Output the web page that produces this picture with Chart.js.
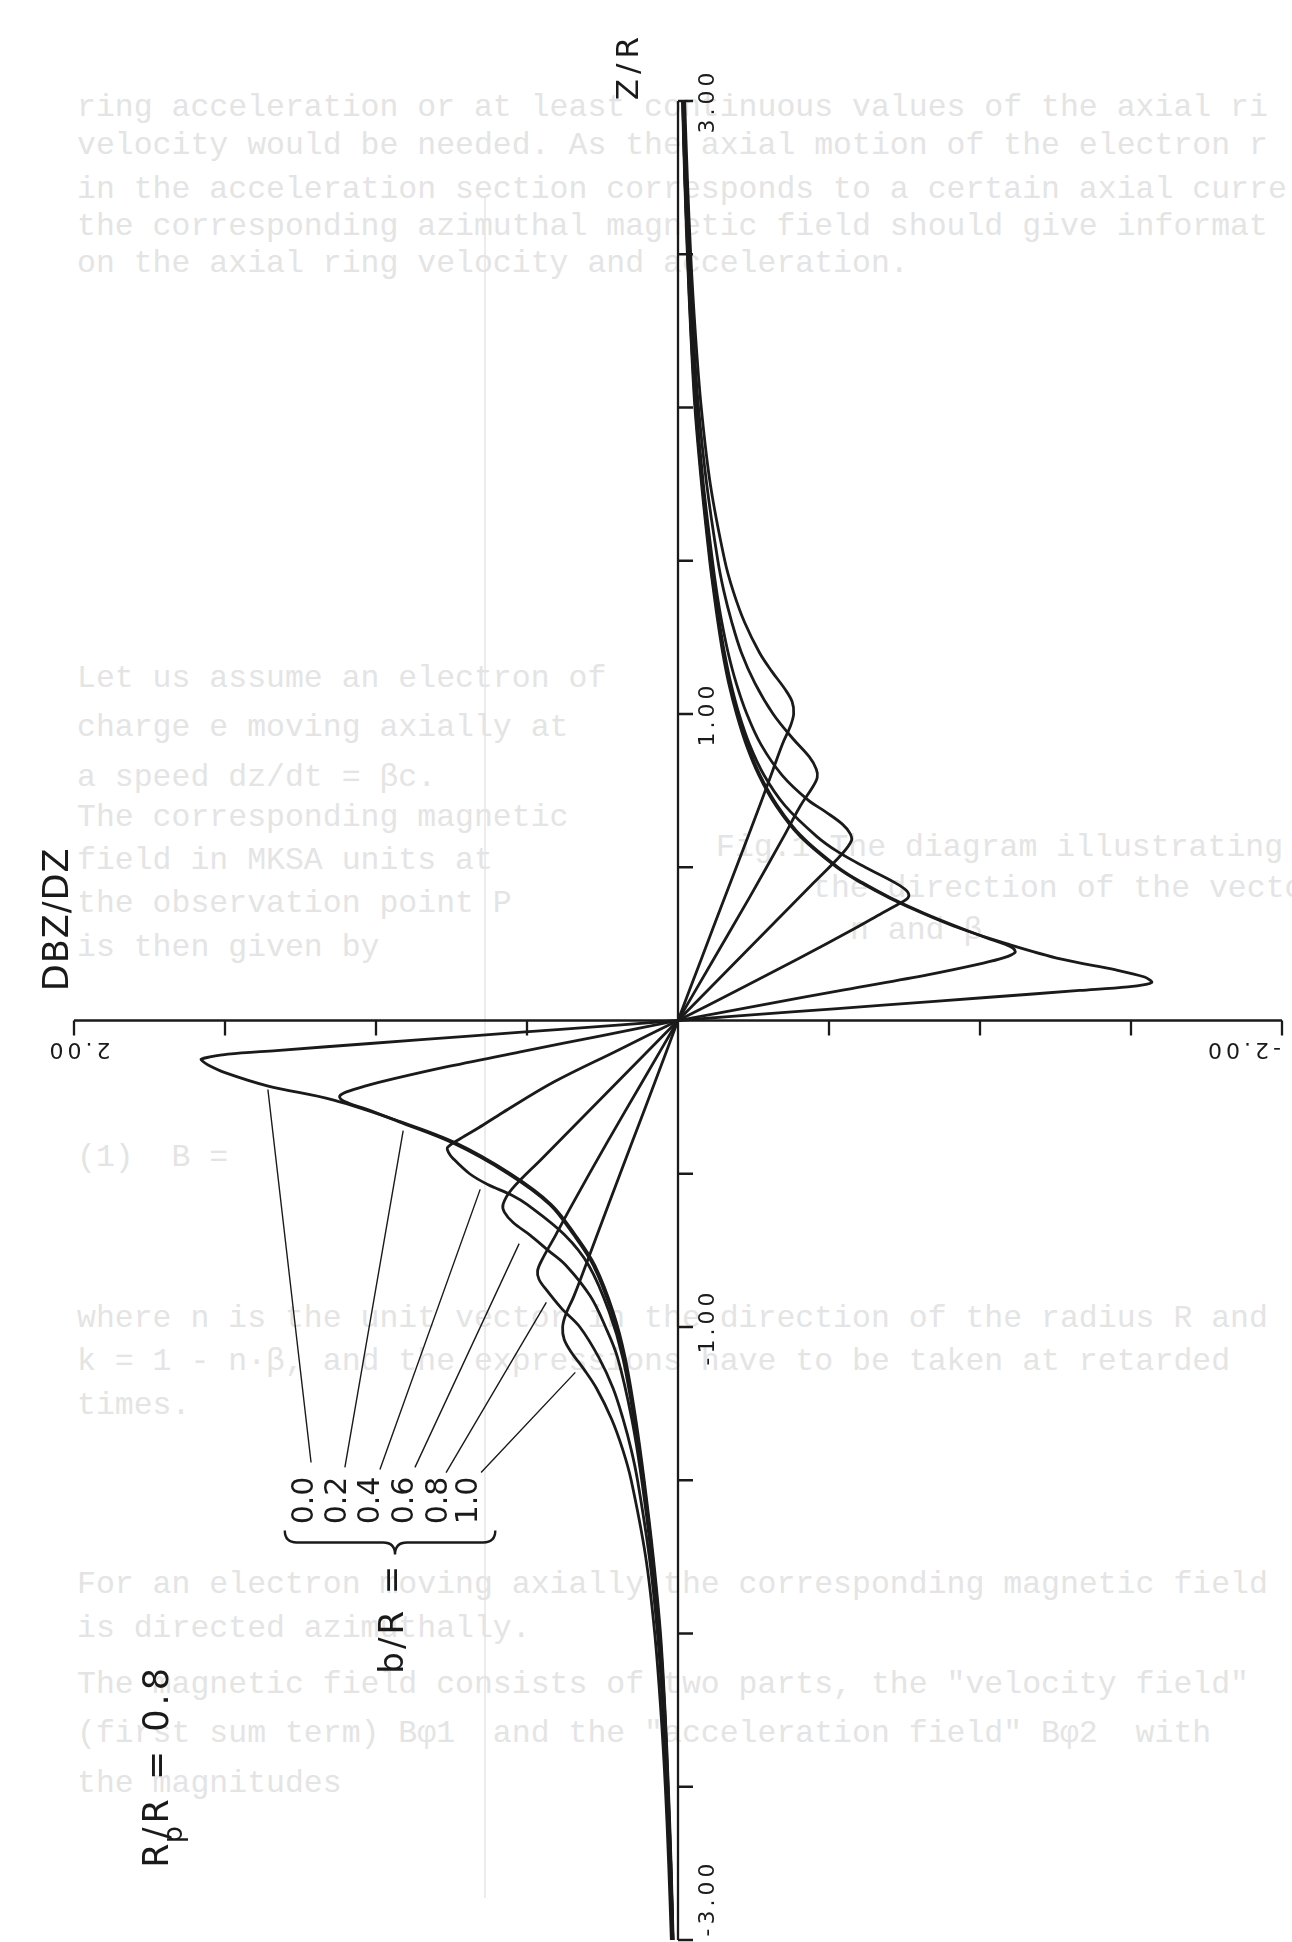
<!DOCTYPE html>
<html>
<head>
<meta charset="utf-8">
<script src="https://cdn.jsdelivr.net/npm/chart.js@4.4.1/dist/chart.umd.min.js"></script>
<style>
  html, body { margin: 0; padding: 0; background: #ffffff; }
  #wrap { position: relative; width: 1292px; height: 1942px; overflow: hidden; }
  #page { position: absolute; left: 0; top: 0; width: 1292px; height: 1942px; overflow: hidden;
          font-family: "Liberation Mono", "DejaVu Sans Mono", monospace; font-size: 31.5px;
          color: #e4e4e4; white-space: pre; }
  #page div { position: absolute; line-height: 1; }
  #page .rule { background: #ececec; width: 2px; }
  canvas { position: absolute; left: 0; top: 0; }
</style>
</head>
<body>
<div id="wrap">
  <!-- typewritten text of the facing page, showing faintly through the sheet -->
  <div id="page">
    <div class="rule" style="left:484px;top:198px;height:1700px"></div>
    <div style="left:77px;top:92px">ring acceleration or at least continuous values of the axial ri</div>
    <div style="left:77px;top:130px">velocity would be needed. As the axial motion of the electron r</div>
    <div style="left:77px;top:174px">in the acceleration section corresponds to a certain axial curre</div>
    <div style="left:77px;top:211px">the corresponding azimuthal magnetic field should give informat</div>
    <div style="left:77px;top:248px">on the axial ring velocity and acceleration.</div>
    <div style="left:77px;top:663px">Let us assume an electron of</div>
    <div style="left:77px;top:712px">charge e moving axially at</div>
    <div style="left:77px;top:762px">a speed dz/dt = βc.</div>
    <div style="left:77px;top:802px">The corresponding magnetic</div>
    <div style="left:77px;top:845px">field in MKSA units at</div>
    <div style="left:77px;top:888px">the observation point P</div>
    <div style="left:77px;top:932px">is then given by</div>
    <div style="left:716px;top:832px">Fig.1 The diagram illustrating</div>
    <div style="left:812px;top:873px">the direction of the vectors</div>
    <div style="left:850px;top:915px">n and β</div>
    <div style="left:77px;top:1142px">(1)  B =</div>
    <div style="left:77px;top:1303px">where n is the unit vector in the direction of the radius R and</div>
    <div style="left:77px;top:1346px">k = 1 - n·β, and the expressions have to be taken at retarded</div>
    <div style="left:77px;top:1390px">times.</div>
    <div style="left:77px;top:1569px">For an electron moving axially the corresponding magnetic field</div>
    <div style="left:77px;top:1613px">is directed azimuthally.</div>
    <div style="left:77px;top:1669px">The magnetic field consists of two parts, the "velocity field"</div>
    <div style="left:77px;top:1718px">(first sum term) Bφ1  and the "acceleration field" Bφ2  with</div>
    <div style="left:77px;top:1768px">the magnitudes</div>
  </div>
  <canvas id="c" width="1292" height="1942"></canvas>
</div>
<script>
// ---- axial field gradient DBZ/DZ against Z/R, Rp/R = 0.8, one curve per b/R ----
const bLabels = ['0.0', '0.2', '0.4', '0.6', '0.8', '1.0'];

const zB00 = [-3, -2.75, -2.5, -2.25, -2, -1.75, -1.5, -1.3, -1.1, -0.95, -0.8, -0.7, -0.6, -0.5, -0.4, -0.33, -0.26, -0.213, -0.17, -0.145, -0.132, -0.126, -0.119, -0.11, -0.098, -0.075, -0.05, -0.028, 0,
              0.028, 0.05, 0.075, 0.098, 0.11, 0.118, 0.124, 0.13, 0.142, 0.165, 0.2, 0.25, 0.3, 0.35, 0.4, 0.45, 0.5, 0.6, 0.7, 0.8, 0.9, 1.0, 1.1, 1.2, 1.3, 1.4, 1.5, 1.75, 2, 2.25, 2.5, 2.75, 3];
const dB00 = [0.016, 0.023, 0.032, 0.043, 0.058, 0.082, 0.112, 0.14, 0.175, 0.215, 0.275, 0.34, 0.42, 0.555, 0.735, 0.92, 1.14, 1.36, 1.5, 1.556, 1.575, 1.579, 1.55, 1.49, 1.33, 1.02, 0.68, 0.377, 0,
              -0.377, -0.68, -1.02, -1.33, -1.49, -1.55, -1.569, -1.565, -1.545, -1.45, -1.27, -1.09, -0.935, -0.81, -0.70, -0.605, -0.525, -0.405, -0.325, -0.268, -0.226, -0.194, -0.168, -0.148, -0.132, -0.118, -0.105, -0.078, -0.056, -0.042, -0.031, -0.022, -0.015];

const zB02 = [-3, -2.75, -2.5, -2.25, -2, -1.75, -1.5, -1.3, -1.1, -0.95, -0.8, -0.7, -0.6, -0.5, -0.4, -0.33, -0.29, -0.27, -0.258, -0.246, -0.232, -0.215, -0.19, -0.15, -0.1, -0.05, 0,
              0.05, 0.1, 0.15, 0.185, 0.205, 0.222, 0.235, 0.25, 0.27, 0.3, 0.35, 0.4, 0.45, 0.5, 0.6, 0.7, 0.8, 0.9, 1.0, 1.1, 1.2, 1.3, 1.4, 1.5, 1.75, 2, 2.25, 2.5, 2.75, 3];
const dB02 = [0.017, 0.024, 0.033, 0.044, 0.06, 0.084, 0.114, 0.143, 0.178, 0.22, 0.28, 0.345, 0.425, 0.562, 0.745, 0.925, 1.03, 1.09, 1.115, 1.12, 1.095, 1.04, 0.94, 0.76, 0.51, 0.255, 0,
              -0.275, -0.55, -0.83, -1.0, -1.08, -1.116, -1.11, -1.08, -1.02, -0.94, -0.815, -0.705, -0.61, -0.53, -0.41, -0.33, -0.272, -0.23, -0.197, -0.171, -0.151, -0.135, -0.12, -0.107, -0.08, -0.058, -0.043, -0.032, -0.023, -0.016];

const zB04 = [-3, -2.75, -2.5, -2.25, -2, -1.75, -1.5, -1.3, -1.1, -0.95, -0.8, -0.7, -0.6, -0.57, -0.535, -0.5, -0.45, -0.43, -0.414, -0.385, -0.35, -0.3, -0.2, -0.1, 0,
              0.1, 0.2, 0.3, 0.35, 0.38, 0.401, 0.42, 0.44, 0.47, 0.5, 0.55, 0.6, 0.7, 0.8, 0.9, 1.0, 1.1, 1.2, 1.3, 1.4, 1.5, 1.75, 2, 2.25, 2.5, 2.75, 3];
const dB04 = [0.017, 0.024, 0.034, 0.045, 0.061, 0.086, 0.116, 0.146, 0.183, 0.228, 0.295, 0.375, 0.5, 0.55, 0.63, 0.69, 0.745, 0.76, 0.763, 0.72, 0.66, 0.58, 0.41, 0.205, 0,
              -0.2, -0.395, -0.585, -0.675, -0.73, -0.762, -0.76, -0.735, -0.68, -0.62, -0.53, -0.46, -0.355, -0.285, -0.237, -0.202, -0.175, -0.154, -0.137, -0.122, -0.109, -0.081, -0.059, -0.044, -0.033, -0.023, -0.016];

const zB06 = [-3, -2.75, -2.5, -2.25, -2, -1.75, -1.5, -1.3, -1.1, -1.0, -0.9, -0.8, -0.75, -0.7, -0.66, -0.625, -0.599, -0.55, -0.45, -0.3, -0.15, 0,
              0.15, 0.3, 0.45, 0.54, 0.586, 0.61, 0.64, 0.68, 0.72, 0.8, 0.9, 1.0, 1.1, 1.2, 1.3, 1.4, 1.5, 1.75, 2, 2.25, 2.5, 2.75, 3];
const dB06 = [0.017, 0.025, 0.035, 0.046, 0.063, 0.088, 0.12, 0.153, 0.2, 0.24, 0.29, 0.37, 0.43, 0.49, 0.545, 0.575, 0.579, 0.55, 0.45, 0.3, 0.15, 0,
              -0.15, -0.3, -0.45, -0.54, -0.574, -0.57, -0.545, -0.49, -0.43, -0.345, -0.275, -0.228, -0.193, -0.166, -0.145, -0.128, -0.114, -0.084, -0.061, -0.045, -0.034, -0.024, -0.017];

const zB08 = [-3, -2.75, -2.5, -2.25, -2, -1.75, -1.5, -1.4, -1.3, -1.2, -1.1, -1.0, -0.94, -0.88, -0.845, -0.817, -0.78, -0.7, -0.6, -0.4, -0.2, 0,
              0.2, 0.4, 0.6, 0.7, 0.76, 0.793, 0.82, 0.86, 0.92, 1.0, 1.1, 1.2, 1.3, 1.4, 1.5, 1.75, 2, 2.25, 2.5, 2.75, 3];
const dB08 = [0.019, 0.027, 0.037, 0.05, 0.068, 0.095, 0.134, 0.155, 0.182, 0.215, 0.262, 0.325, 0.385, 0.435, 0.46, 0.465, 0.45, 0.405, 0.35, 0.236, 0.118, 0,
              -0.118, -0.236, -0.35, -0.405, -0.445, -0.461, -0.458, -0.435, -0.38, -0.315, -0.255, -0.21, -0.178, -0.152, -0.132, -0.095, -0.068, -0.05, -0.037, -0.027, -0.019];

const zB10 = [-3, -2.75, -2.5, -2.25, -2, -1.75, -1.5, -1.4, -1.3, -1.2, -1.14, -1.08, -1.04, -1.0, -0.96, -0.9, -0.8, -0.6, -0.4, -0.2, 0,
              0.2, 0.4, 0.6, 0.8, 0.9, 0.96, 1.0, 1.04, 1.08, 1.14, 1.2, 1.3, 1.4, 1.5, 1.75, 2, 2.25, 2.5, 2.75, 3];
const dB10 = [0.022, 0.031, 0.042, 0.057, 0.077, 0.107, 0.155, 0.183, 0.22, 0.27, 0.31, 0.355, 0.377, 0.382, 0.372, 0.345, 0.306, 0.23, 0.153, 0.076, 0,
              -0.077, -0.154, -0.232, -0.308, -0.345, -0.372, -0.383, -0.378, -0.355, -0.31, -0.27, -0.22, -0.183, -0.155, -0.107, -0.077, -0.057, -0.042, -0.031, -0.022];

// axis ranges, tick spacing and tick labels
const dbzMin = -2, dbzMax = 2;
const zMin = -3, zMax = 3;
const tickStep = 0.5;
const zLabelValues = [3, 1, -1, -3];
const zLabelTexts = ['3.00', '1.00', '-1.00', '-3.00'];
const dbzLabelValues = [2, -2];
const dbzLabelTexts = ['2.00', '-2.00'];

// where each b/R leader line touches its curve [DBZ, Z] and where its label stands
const leaderOnCurve = [[1.358, -0.225], [0.910, -0.359], [0.655, -0.551], [0.526, -0.728], [0.436, -0.920], [0.340, -1.148]];
const leaderAtLabel = [[1.215, -1.442], [1.103, -1.458], [0.987, -1.465], [0.871, -1.458], [0.768, -1.475], [0.652, -1.475]];
const labelAt = [[1.235, -1.566], [1.126, -1.566], [1.017, -1.566], [0.904, -1.566], [0.791, -1.566], [0.692, -1.566]];

const INK = '#1a1a1a';

const seriesZ = [zB00, zB02, zB04, zB06, zB08, zB10];
const seriesD = [dB00, dB02, dB04, dB06, dB08, dB10];

const datasets = bLabels.map((b, k) => ({
  label: 'b/R = ' + b,
  data: seriesZ[k].map((z, i) => ({ x: seriesD[k][i], y: z })),
  showLine: true,
  borderColor: INK,
  borderWidth: 2.8,
  pointRadius: 0,
  tension: 0.35,
  fill: false,
  clip: 6
}));

function drawRotated(ctx, text, px, py, angle, font, spacing, align) {
  ctx.save();
  ctx.translate(px, py);
  ctx.rotate(angle);
  ctx.font = font;
  if ('letterSpacing' in ctx) ctx.letterSpacing = spacing + 'px';
  ctx.textAlign = align || 'center';
  ctx.textBaseline = 'middle';
  ctx.fillText(text, 0, 0);
  ctx.restore();
}

const frame = {
  id: 'frame',
  beforeDatasetsDraw(chart) {
    const { ctx, scales: { x, y } } = chart;
    const x0 = x.getPixelForValue(0), y0 = y.getPixelForValue(0);
    ctx.save();
    ctx.strokeStyle = INK;
    ctx.lineWidth = 2.3;
    ctx.beginPath();
    ctx.moveTo(x0, y.getPixelForValue(zMax));
    ctx.lineTo(x0, y.getPixelForValue(zMin));
    ctx.moveTo(x.getPixelForValue(dbzMax), y0);
    ctx.lineTo(x.getPixelForValue(dbzMin), y0);
    // Z/R ticks point to the right, DBZ/DZ ticks point down
    for (let v = zMin; v <= zMax + 1e-9; v += tickStep) {
      if (Math.abs(v) < 1e-9) continue;
      const py = y.getPixelForValue(v);
      ctx.moveTo(x0, py); ctx.lineTo(x0 + 15, py);
    }
    for (let v = dbzMin; v <= dbzMax + 1e-9; v += tickStep) {
      if (Math.abs(v) < 1e-9) continue;
      const px = x.getPixelForValue(v);
      ctx.moveTo(px, y0); ctx.lineTo(px, y0 + 15);
    }
    ctx.stroke();
    ctx.restore();
  },
  afterDatasetsDraw(chart) {
    const { ctx, scales: { x, y } } = chart;
    const H = chart.height;
    ctx.save();
    ctx.fillStyle = INK;
    ctx.strokeStyle = INK;

    // tick labels along Z/R, written bottom-to-top
    const tickFont = '22px "DejaVu Sans", sans-serif';
    zLabelValues.forEach((v, i) => {
      let py = y.getPixelForValue(v);
      py = Math.min(py, H - 44);
      drawRotated(ctx, zLabelTexts[i], x.getPixelForValue(-0.1), py, -Math.PI / 2, tickFont, 4);
    });
    // tick labels along DBZ/DZ, written upside down
    dbzLabelValues.forEach((v, i) => {
      const px = x.getPixelForValue(v);
      const ly = y.getPixelForValue(0) + 28;
      if (v < 0) drawRotated(ctx, dbzLabelTexts[i], px - 1, ly, Math.PI, tickFont, 4, 'left');
      else drawRotated(ctx, dbzLabelTexts[i], px + 4, ly, Math.PI, tickFont, 4, 'center');
    });

    // axis titles
    drawRotated(ctx, 'DBZ/DZ', x.getPixelForValue(2.05), y.getPixelForValue(0.33), -Math.PI / 2, '35px "DejaVu Sans", sans-serif', 1);
    drawRotated(ctx, 'Z/R', x.getPixelForValue(0.16), y.getPixelForValue(3.114), -Math.PI / 2, '31px "DejaVu Sans", sans-serif', 5);

    // b/R labels with leader lines to their curves
    ctx.lineWidth = 1.4;
    ctx.beginPath();
    leaderOnCurve.forEach((p, i) => {
      ctx.moveTo(x.getPixelForValue(p[0]), y.getPixelForValue(p[1]));
      ctx.lineTo(x.getPixelForValue(leaderAtLabel[i][0]), y.getPixelForValue(leaderAtLabel[i][1]));
    });
    ctx.stroke();
    const valFont = '30px "DejaVu Sans", sans-serif';
    bLabels.forEach((b, i) => {
      drawRotated(ctx, b, x.getPixelForValue(labelAt[i][0]), y.getPixelForValue(labelAt[i][1]), -Math.PI / 2, valFont, 0);
    });

    // brace gathering the b/R values
    const xl = x.getPixelForValue(1.302), xr = x.getPixelForValue(0.605), xc = x.getPixelForValue(0.937);
    const yt = y.getPixelForValue(-1.664), yTip = y.getPixelForValue(-1.742);
    const ym = (yt + yTip) / 2;
    ctx.lineWidth = 2.4;
    ctx.beginPath();
    ctx.moveTo(xl, yt);
    ctx.quadraticCurveTo(xl, ym, xl + 12, ym);
    ctx.lineTo(xc - 12, ym);
    ctx.quadraticCurveTo(xc, ym, xc, yTip);
    ctx.quadraticCurveTo(xc, ym, xc + 12, ym);
    ctx.lineTo(xr - 12, ym);
    ctx.quadraticCurveTo(xr, ym, xr, yt);
    ctx.stroke();
    drawRotated(ctx, 'b/R =', x.getPixelForValue(0.94), y.getPixelForValue(-1.95), -Math.PI / 2, '34px "DejaVu Sans", sans-serif', 3);

    // Rp/R = 0.8, written bottom-to-top with a subscript p
    ctx.save();
    ctx.translate(x.getPixelForValue(1.72), y.getPixelForValue(-2.764));
    ctx.rotate(-Math.PI / 2);
    ctx.textBaseline = 'middle';
    ctx.textAlign = 'left';
    ctx.font = '35px "DejaVu Sans", sans-serif';
    if ('letterSpacing' in ctx) ctx.letterSpacing = '4px';
    ctx.fillText('R', 0, 0);
    const wR = ctx.measureText('R').width;
    ctx.font = '27px "DejaVu Sans", sans-serif';
    ctx.fillText('p', wR - 4, 16);
    ctx.font = '35px "DejaVu Sans", sans-serif';
    ctx.fillText('/R = 0.8', wR, 0);
    ctx.restore();

    ctx.restore();
  }
};

new Chart(document.getElementById('c').getContext('2d'), {
  type: 'scatter',
  data: { datasets },
  options: {
    responsive: false,
    animation: false,
    devicePixelRatio: 1,
    layout: { padding: { left: 74, right: 10, top: 101, bottom: 2 } },
    scales: {
      x: { type: 'linear', min: dbzMin, max: dbzMax, reverse: true, display: false },
      y: { type: 'linear', min: zMin, max: zMax, display: false }
    },
    plugins: { legend: { display: false }, tooltip: { enabled: false } }
  },
  plugins: [frame]
});
</script>
</body>
</html>
